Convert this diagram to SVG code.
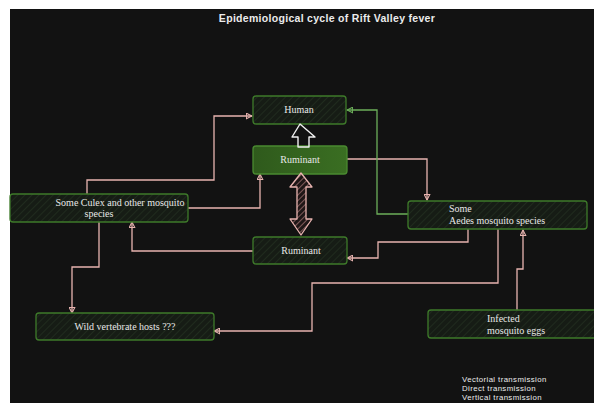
<svg xmlns="http://www.w3.org/2000/svg" width="594" height="403" viewBox="0 0 594 403">
<defs>
<pattern id="hatch" width="5" height="5" patternUnits="userSpaceOnUse" patternTransform="rotate(45)">
<rect width="5" height="5" fill="#161c15"/>
<line x1="0" y1="0" x2="0" y2="5" stroke="#2a3a26" stroke-width="1"/>
</pattern>
<pattern id="phatch" width="4" height="4" patternUnits="userSpaceOnUse" patternTransform="rotate(45)">
<rect width="4" height="4" fill="#1e1616"/>
<line x1="0" y1="0" x2="0" y2="4" stroke="#c48a8a" stroke-width="1.2"/>
</pattern>
<linearGradient id="gfill" x1="0" y1="0" x2="1" y2="0">
<stop offset="0" stop-color="#2f5a1c"/>
<stop offset="1" stop-color="#3a6e22"/>
</linearGradient>
<marker id="ap" viewBox="0 0 10 10" refX="9" refY="5" markerWidth="7" markerHeight="7" orient="auto-start-reverse" markerUnits="userSpaceOnUse">
<path d="M1,1 L9,5 L1,9 Z" fill="none" stroke="#e8b4b0" stroke-width="1.5"/>
</marker>
<marker id="ag" viewBox="0 0 10 10" refX="9" refY="5" markerWidth="7" markerHeight="7" orient="auto-start-reverse" markerUnits="userSpaceOnUse">
<path d="M1,1 L9,5 L1,9 Z" fill="none" stroke="#6cae5a" stroke-width="1.5"/>
</marker>
</defs>
<style>
.box{fill:url(#hatch);stroke:#3e7a2a;stroke-width:1.3}
.lbl{font-family:"Liberation Serif","Times New Roman",serif;font-size:10px;fill:#e8e8e8}
.hand{font-family:"Liberation Sans",Arial,sans-serif;fill:#ececec}
.leg{font-family:"Liberation Sans",Arial,sans-serif;fill:#ececec;font-size:7.8px;letter-spacing:0.4px}
.cp{fill:none;stroke:#e8b4b0;stroke-width:1.3;marker-end:url(#ap)}
.cg{fill:none;stroke:#6cae5a;stroke-width:1.3;marker-end:url(#ag)}
</style>
<rect x="0" y="0" width="594" height="403" fill="#ffffff"/>
<rect x="10" y="9" width="584" height="394" fill="#121212"/>
<text class="hand" x="327" y="22" text-anchor="middle" font-size="10.5" font-weight="bold" letter-spacing="0.3">Epidemiological cycle of Rift Valley fever</text>

<g id="connectors">
<path class="cp" d="M87,194 V180 H214 V116 H252"/>
<path class="cp" d="M188,208 H260 V174"/>
<path class="cp" d="M347,159 H427 V200"/>
<path class="cg" d="M408,214 H377 V110 H347"/>
<path class="cp" d="M468,229 V242 H378 V258 H347"/>
<path class="cp" d="M253,251 H132 V222"/>
<path class="cp" d="M99,222 V267 H72 V313"/>
<path class="cp" d="M498,229 V283 H312 V331 H214"/>
<path class="cp" d="M517,310 V269 H523 V230"/>
</g>

<g id="human">
<rect class="box" x="253" y="96" width="93" height="28" rx="3"/>
<text class="lbl" x="299" y="113" text-anchor="middle">Human</text>
</g>
<g id="ruminant-top">
<rect x="253" y="146" width="94" height="28" rx="3" fill="url(#gfill)" stroke="#4a8a30" stroke-width="1.3"/>
<text class="lbl" x="300" y="163" text-anchor="middle">Ruminant</text>
</g>
<g id="ruminant-bottom">
<rect class="box" x="253" y="237" width="94" height="27" rx="3"/>
<text class="lbl" x="301" y="254" text-anchor="middle">Ruminant</text>
</g>
<g id="culex">
<rect class="box" x="10" y="194" width="178" height="28" rx="3"/>
<text class="lbl" x="120" y="206" text-anchor="middle">Some Culex and other mosquito</text>
<text class="lbl" x="99" y="217" text-anchor="middle">species</text>
</g>
<g id="wild">
<rect class="box" x="36" y="313" width="178" height="27" rx="3"/>
<text class="lbl" x="125" y="330" text-anchor="middle">Wild vertebrate hosts ???</text>
</g>
<g id="aedes">
<rect class="box" x="408" y="201" width="179" height="28" rx="3"/>
<text class="lbl" x="449" y="212">Some</text>
<text class="lbl" x="449" y="224">Aedes mosquito species</text>
</g>
<g id="eggs">
<rect class="box" x="428" y="310" width="175" height="28" rx="3"/>
<text class="lbl" x="487" y="322">Infected</text>
<text class="lbl" x="487" y="334">mosquito eggs</text>
</g>

<g id="arrow-up">
<path d="M300,124 L315,137 L309,137 L309,147 L298,147 L298,137 L292,137 Z" fill="none" stroke="#f0f0f0" stroke-width="1.4" stroke-linejoin="round"/>
</g>
<g id="arrow-double">
<path d="M301,173 L312,187 L306,187 L306,219 L312,219 L301,235 L290,219 L297,219 L297,187 L290,187 Z" fill="url(#phatch)" stroke="#e8b4b0" stroke-width="1.3" stroke-linejoin="round"/>
</g>

<g id="legend">
<text class="leg" x="462" y="382">Vectorial transmission</text>
<text class="leg" x="462" y="391">Direct transmission</text>
<text class="leg" x="462" y="400">Vertical transmission</text>
</g>
</svg>
